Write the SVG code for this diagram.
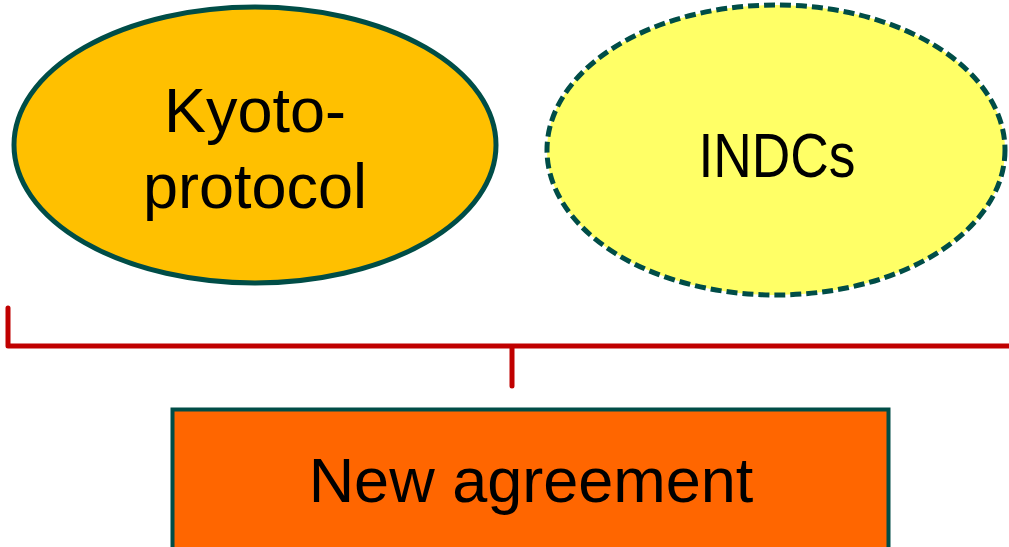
<svg xmlns="http://www.w3.org/2000/svg" width="1009" height="547" viewBox="0 0 1009 547">
  <style>
    .lbl { font-family: "Liberation Sans", Arial, sans-serif; font-size: 63px; fill: #000; text-anchor: middle; }
    .edge { stroke: #004D47; stroke-width: 5; }
    .link { fill: none; stroke: #C00000; stroke-width: 5; stroke-linecap: round; stroke-linejoin: round; }
  </style>
  <rect width="1009" height="547" fill="#FFFFFF"/>

  <g id="kyoto">
    <ellipse class="edge" cx="255" cy="145" rx="241" ry="138" fill="#FFC000"/>
    <text class="lbl" x="255" y="132">Kyoto-</text>
    <text class="lbl" x="255" y="208">protocol</text>
  </g>

  <g id="indcs">
    <ellipse class="edge" cx="776" cy="150" rx="229" ry="145" fill="#FFFF66" stroke-dasharray="11 5"/>
    <text class="lbl" x="777" y="177" textLength="157" lengthAdjust="spacingAndGlyphs">INDCs</text>
  </g>

  <g id="connectors">
    <path class="link" d="M8 308 V346 H1011 M512 346 V386"/>
  </g>

  <g id="new-agreement">
    <rect x="172.5" y="409.5" width="716" height="145" fill="#FF6600" stroke="#004D47" stroke-width="4"/>
    <text class="lbl" x="531" y="502">New agreement</text>
  </g>
</svg>
